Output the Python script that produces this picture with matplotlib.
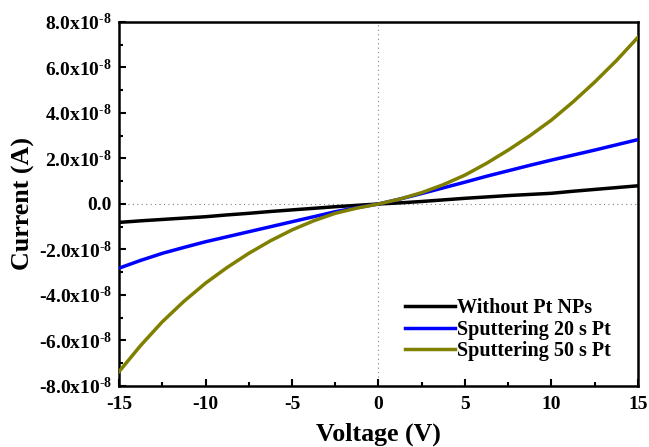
import numpy as np
import matplotlib.pyplot as plt
from matplotlib.ticker import MultipleLocator, FuncFormatter

plt.rcParams['font.family'] = ['Liberation Serif', 'DejaVu Serif']
plt.rcParams['font.weight'] = 'bold'
plt.rcParams['axes.unicode_minus'] = False
plt.rcParams['mathtext.fontset'] = 'custom'
plt.rcParams['mathtext.rm'] = 'Liberation Serif:bold'
plt.rcParams['mathtext.bf'] = 'Liberation Serif:bold'
plt.rcParams['mathtext.default'] = 'rm'

# I-V curves, current in units of 1e-8 A
voltage = [-15, -13.75, -12.5, -11.25, -10, -8.75, -7.5, -6.25, -5, -3.75, -2.5, -1.25,
           0, 1.25, 2.5, 3.75, 5, 6.25, 7.5, 8.75, 10, 11.25, 12.5, 13.75, 15]
i_bare = [-0.81, -0.74, -0.68, -0.62, -0.56, -0.48, -0.41, -0.33, -0.26, -0.19, -0.12, -0.06,
          0, 0.05, 0.11, 0.18, 0.25, 0.31, 0.37, 0.42, 0.47, 0.56, 0.64, 0.72, 0.80]
i_pt20 = [-2.82, -2.48, -2.17, -1.91, -1.66, -1.44, -1.22, -1.00, -0.78, -0.56, -0.34, -0.16,
          0, 0.22, 0.46, 0.71, 0.96, 1.22, 1.46, 1.70, 1.93, 2.15, 2.37, 2.60, 2.83]
i_pt50 = [-7.37, -6.22, -5.18, -4.28, -3.48, -2.79, -2.17, -1.62, -1.14, -0.74, -0.41, -0.18,
          0, 0.22, 0.50, 0.85, 1.27, 1.79, 2.37, 3.00, 3.69, 4.49, 5.36, 6.30, 7.33]

labels = ['Without Pt NPs', 'Sputtering 20 s Pt', 'Sputtering 50 s Pt']
colors = ['black', '#0000ff', '#808000']

fig = plt.figure(figsize=(6.49, 4.47), dpi=100)
ax = fig.add_axes([0.1834, 0.1365, 0.7996, 0.8143])

ax.axhline(0, color='gray', lw=0.8, ls=(0, (1, 3)), zorder=1)
ax.axvline(0, color='gray', lw=0.8, ls=(0, (1, 3)), zorder=1)

v = np.array(voltage)
for cur, lab, col in zip([i_bare, i_pt20, i_pt50], labels, colors):
    ax.plot(v, np.array(cur) * 1e-8, color=col, lw=2.5, label=lab, zorder=3)

ax.set_xlim(-15, 15)
ax.set_ylim(-8e-8, 8e-8)
ax.xaxis.set_major_locator(MultipleLocator(5))
ax.xaxis.set_minor_locator(MultipleLocator(2.5))
ax.yaxis.set_major_locator(MultipleLocator(2e-8))
ax.yaxis.set_minor_locator(MultipleLocator(1e-8))


def ylab(val, pos):
    m = val / 1e-8
    if abs(m) < 1e-9:
        return '0.0'
    return '%.1fx10$^{\\text{-8}}$' % m


ax.yaxis.set_major_formatter(FuncFormatter(ylab))
ax.xaxis.set_major_formatter(FuncFormatter(lambda x, p: '%d' % x))

ax.tick_params(which='both', direction='in', top=False, right=False, width=1.5)
ax.tick_params(which='major', length=5, labelsize=14, pad=5)
ax.tick_params(axis='x', which='major', pad=7)
ax.tick_params(which='minor', length=3)
for sp in ax.spines.values():
    sp.set_linewidth(1.8)

ax.set_xlabel('Voltage (V)', fontsize=18.7, fontweight='bold', labelpad=7)
ax.set_ylabel('Current (A)', fontsize=18.7, fontweight='bold', labelpad=3)

ax.legend(loc='lower left', bbox_to_anchor=(0.551, 0.068), frameon=False,
          fontsize=14.5, handlelength=2.5, handletextpad=0.1, labelspacing=0.07,
          borderaxespad=0, borderpad=0)

fig.savefig('out.png', dpi=100)
